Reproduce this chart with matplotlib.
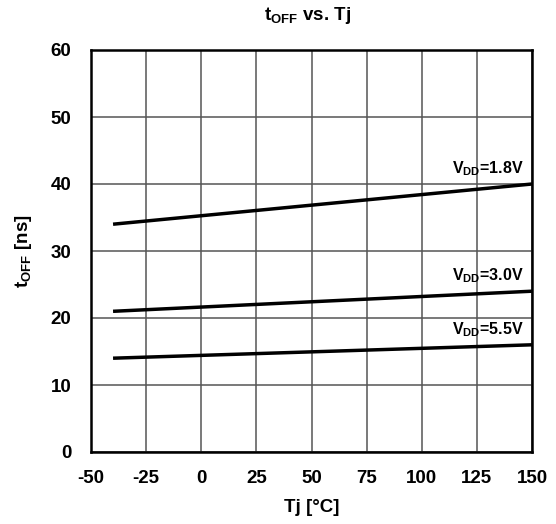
import matplotlib
matplotlib.use("Agg")
import matplotlib.pyplot as plt
import numpy as np

plt.rcParams['font.family'] = ['Liberation Sans', 'DejaVu Sans']
plt.rcParams['font.weight'] = 'bold'
plt.rcParams['axes.unicode_minus'] = False
plt.rcParams['mathtext.fontset'] = 'custom'
plt.rcParams['mathtext.rm'] = 'Liberation Sans:bold'
plt.rcParams['mathtext.bf'] = 'Liberation Sans:bold'
plt.rcParams['mathtext.it'] = 'Liberation Sans:bold'

temps = [-40, 150]
series_labels = ['1.8V', '3.0V', '5.5V']
toff_18 = [34, 40]
toff_30 = [21, 24]
toff_55 = [14, 16]
label_y = [41.6, 25.7, 17.5]
xticks = [-50, -25, 0, 25, 50, 75, 100, 125, 150]
yticks = [0, 10, 20, 30, 40, 50, 60]

fig = plt.figure(figsize=(5.56, 5.24), dpi=100)
ax = fig.add_axes([91/556, 72/524, 441/556, 402/524])

for vals in (toff_18, toff_30, toff_55):
    ax.plot(temps, vals, color='black', lw=2.5, solid_capstyle='butt', zorder=3)

for lab, yy in zip(series_labels, label_y):
    ax.text(146, yy, r'$\mathrm{V_{DD}}$=' + lab, ha='right', va='baseline',
            fontsize=11.5, fontweight='bold', zorder=4)

ax.set_xlim(-50, 150)
ax.set_ylim(0, 60)
ax.set_xticks(xticks)
ax.set_yticks(yticks)
ax.grid(True, color='#555555', lw=1.1)
ax.set_axisbelow(True)
ax.tick_params(axis='x', length=0, labelsize=13.5, pad=13)
ax.tick_params(axis='y', length=0, labelsize=13.5, pad=14)
for lbl in ax.get_xticklabels() + ax.get_yticklabels():
    lbl.set_fontweight('bold')
for s in ax.spines.values():
    s.set_linewidth(1.8)
    s.set_color('black')

ax.set_xlabel('Tj [°C]', fontsize=13.5, fontweight='bold')
ax.xaxis.set_label_coords(0.5, (452 - 507) / 402)
ax.xaxis.label.set_va('center')
ax.set_ylabel(r'$\mathrm{t_{OFF}}$ [ns]', fontsize=13.5, fontweight='bold')
ax.yaxis.set_label_coords((23 - 91) / 441, 0.5)
ax.yaxis.label.set_va('center')
fig.text(308 / 556, 1 - 15 / 524, r'$\mathrm{t_{OFF}}$ vs. Tj', ha='center', va='center',
         fontsize=13.5, fontweight='bold')

fig.savefig('out.png', dpi=100)
